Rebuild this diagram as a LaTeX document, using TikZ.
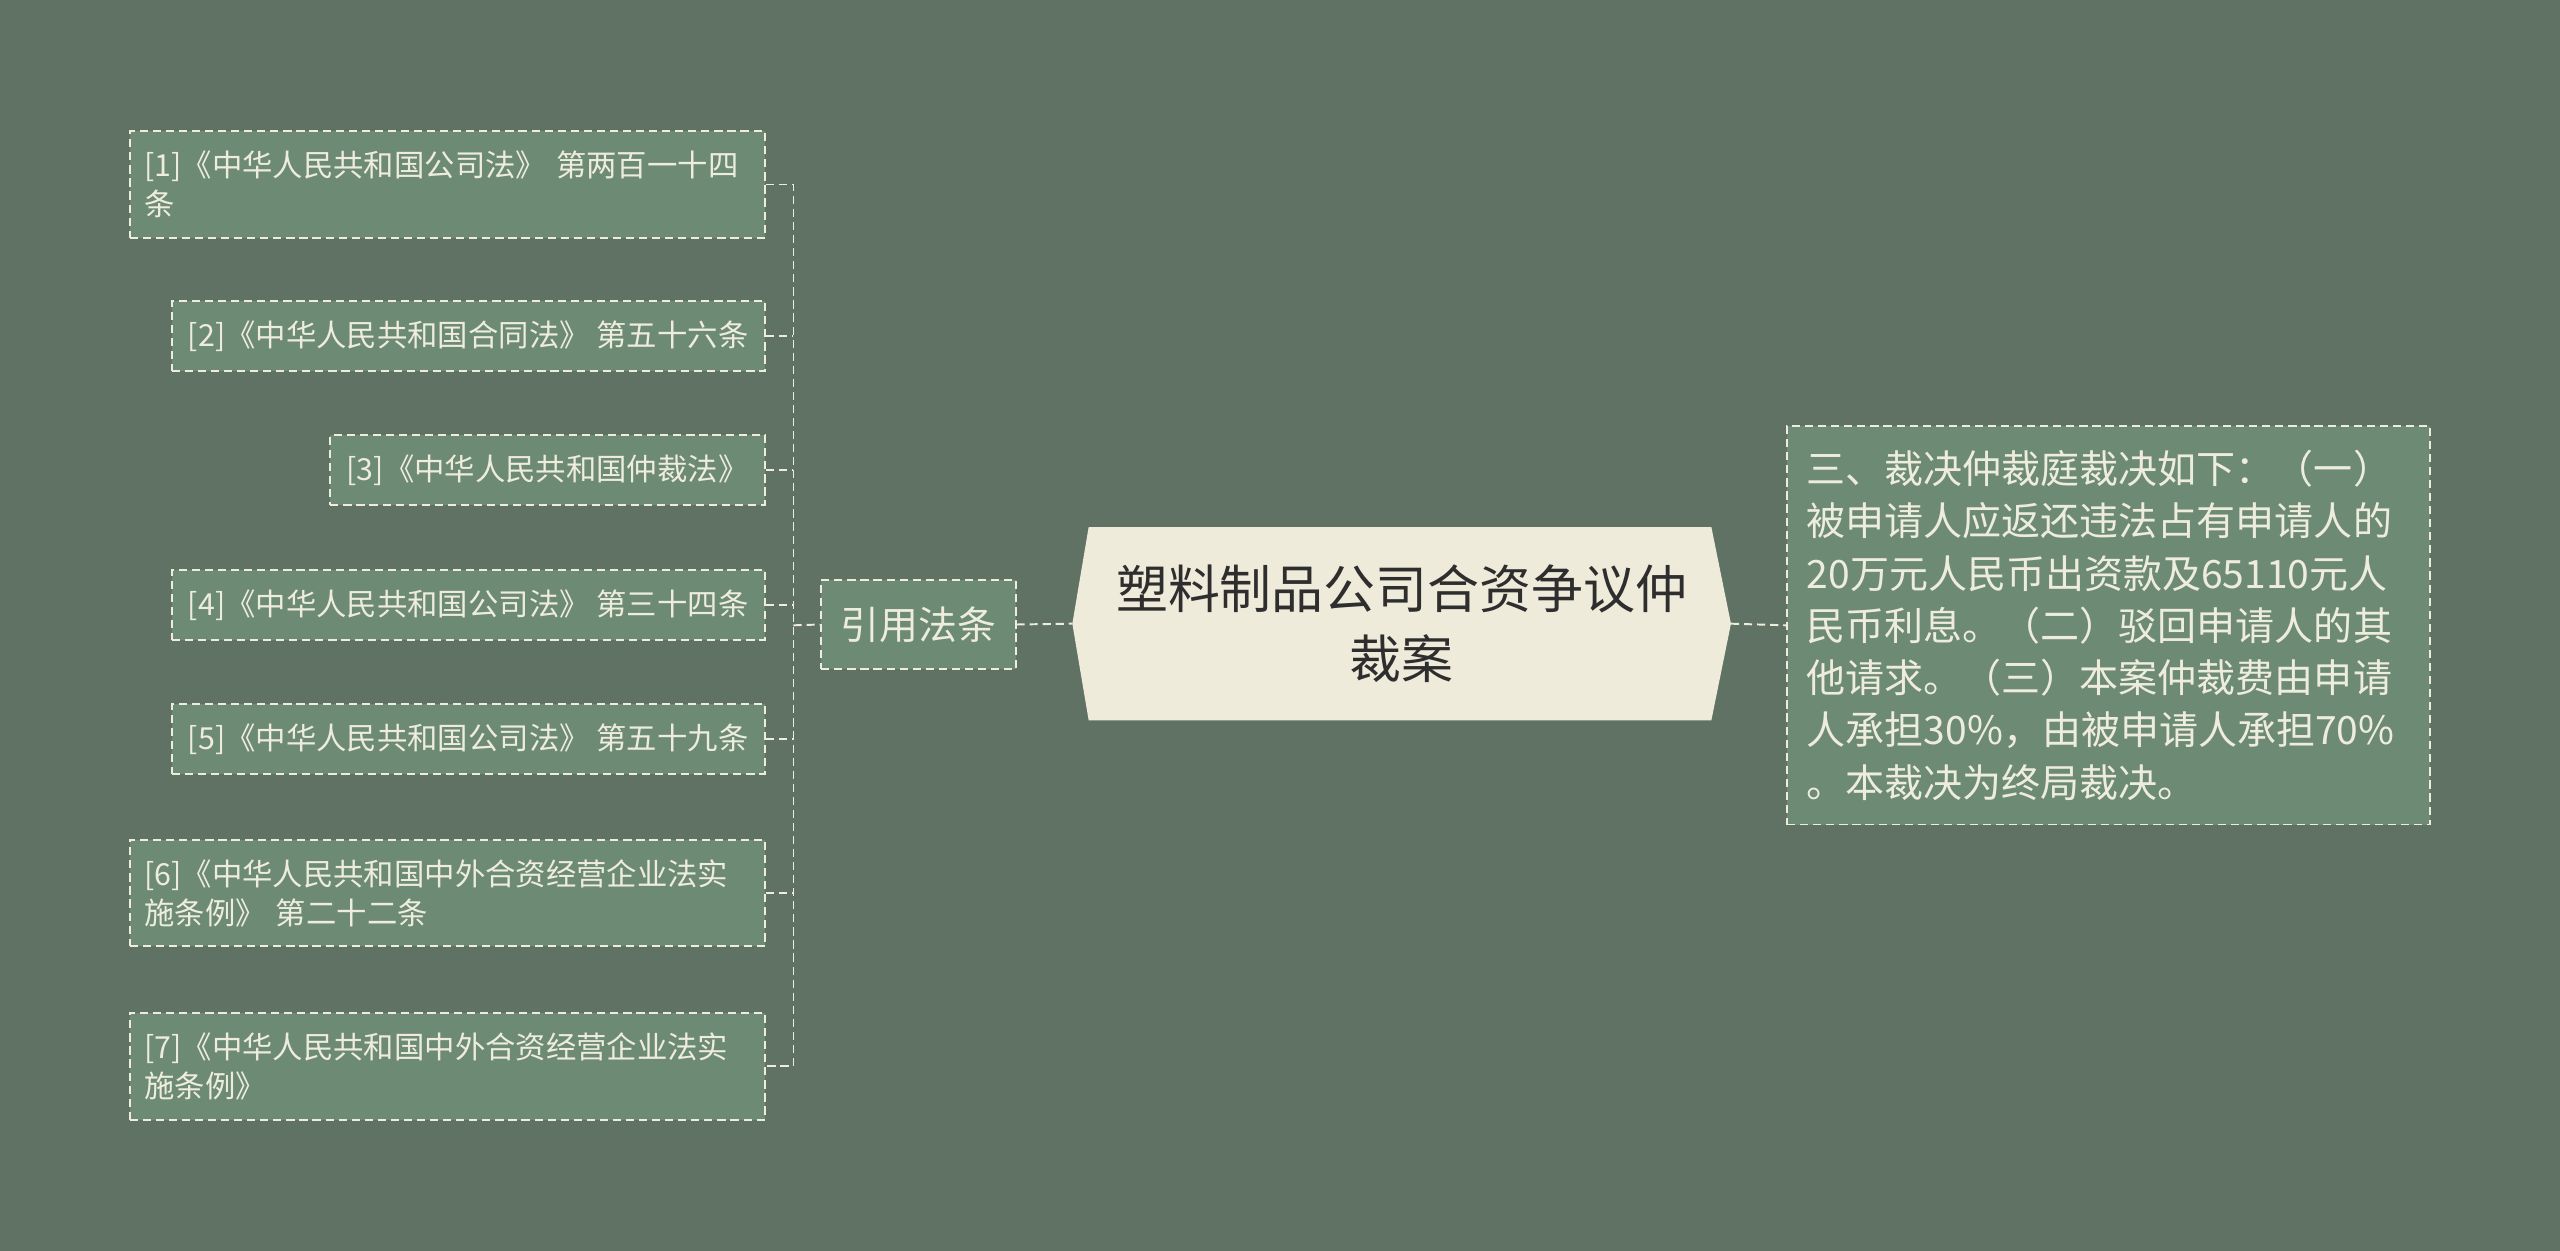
\documentclass[tikz,border=0pt]{standalone}
\usepackage{fontspec}
\setmainfont{Noto Sans CJK SC}
\usetikzlibrary{backgrounds}

\definecolor{bgcol}{HTML}{5F7263}
\definecolor{leafcol}{HTML}{6D8B74}
\definecolor{linecol}{HTML}{EEECDD}
\definecolor{rootcol}{HTML}{EFEBDA}
\definecolor{rootfont}{HTML}{2E2E2E}

\tikzset{
  link/.style={draw=linecol, dash pattern=on 5pt off 3pt, line width=1.2pt},
  leaf/.style={link, fill=leafcol, text=linecol, inner xsep=10pt, inner ysep=12pt,
    minimum height=42pt, anchor=east, align=left, font=\fontsize{18.6}{24}\selectfont},
  leafwide/.style={leaf, text width=371pt, inner xsep=9pt},
  quotebox/.style={link, fill=leafcol, text=linecol, inner sep=0pt,
    minimum width=119pt, minimum height=55pt, font=\fontsize{23.8}{28}\selectfont},
  verdict/.style={link, fill=leafcol, text=linecol, inner xsep=12pt, inner ysep=14pt,
    text width=370pt, minimum height=244pt, anchor=west, align=left,
    font=\fontsize{23.9}{32}\selectfont},
}

\begin{document}
\begin{tikzpicture}[x=1pt, y=-1pt]
\begin{scope}[on background layer]
  \fill[bgcol] (0,0) rectangle (1568,766);
\end{scope}
\useasboundingbox (0,0) rectangle (1568,766);

% 中心主题
\node[minimum width=403pt, minimum height=118pt, align=center, text=rootfont,
  font=\fontsize{31.8}{43}\selectfont] (root) at (858.5,382) {塑料制品公司合资争议仲\\裁案};
\begin{scope}[on background layer]
  \fill[rootcol] ([xshift=10pt]root.north west) -- ([xshift=-12pt]root.north east) -- (root.east)
    -- ([xshift=-12pt]root.south east) -- ([xshift=10pt]root.south west) -- (root.west) -- cycle;
\end{scope}

% 左侧分支
\node[quotebox] (quote) at (562.5,382.5) {引用法条};
\coordinate (hub) at (486,383);

\node[leafwide] (l1) at (469,113) {[1]《中华人民共和国公司法》 第两百一十四\\条};
\node[leaf] (l2) at (469,206) {[2]《中华人民共和国合同法》 第五十六条};
\node[leaf] (l3) at (469,288) {[3]《中华人民共和国仲裁法》};
\node[leaf] (l4) at (469,370.5) {[4]《中华人民共和国公司法》 第三十四条};
\node[leaf] (l5) at (469,452.5) {[5]《中华人民共和国公司法》 第五十九条};
\node[leafwide] (l6) at (469,547) {[6]《中华人民共和国中外合资经营企业法实\\施条例》 第二十二条};
\node[leafwide] (l7) at (469,653) {[7]《中华人民共和国中外合资经营企业法实\\施条例》};

% 右侧分支
\node[verdict] (res) at (1094,383) {三、裁决仲裁庭裁决如下：（一）\\被申请人应返还违法占有申请人的\\20万元人民币出资款及65110元人\\民币利息。（二）驳回申请人的其\\他请求。（三）本案仲裁费由申请\\人承担30\%，由被申请人承担70\%\\。本裁决为终局裁决。};

% 连线
\draw[link] (l1.east) -| (hub) |- (l7.east);
\foreach \i in {2,...,6} {
  \draw[link] (l\i.east) -- (l\i.east -| hub);
}
\draw[link] (hub) -- (quote.west);
\draw[link] (quote.east) -- (root.west);
\draw[link] (root.east) -- (res.west);
\end{tikzpicture}
\end{document}
